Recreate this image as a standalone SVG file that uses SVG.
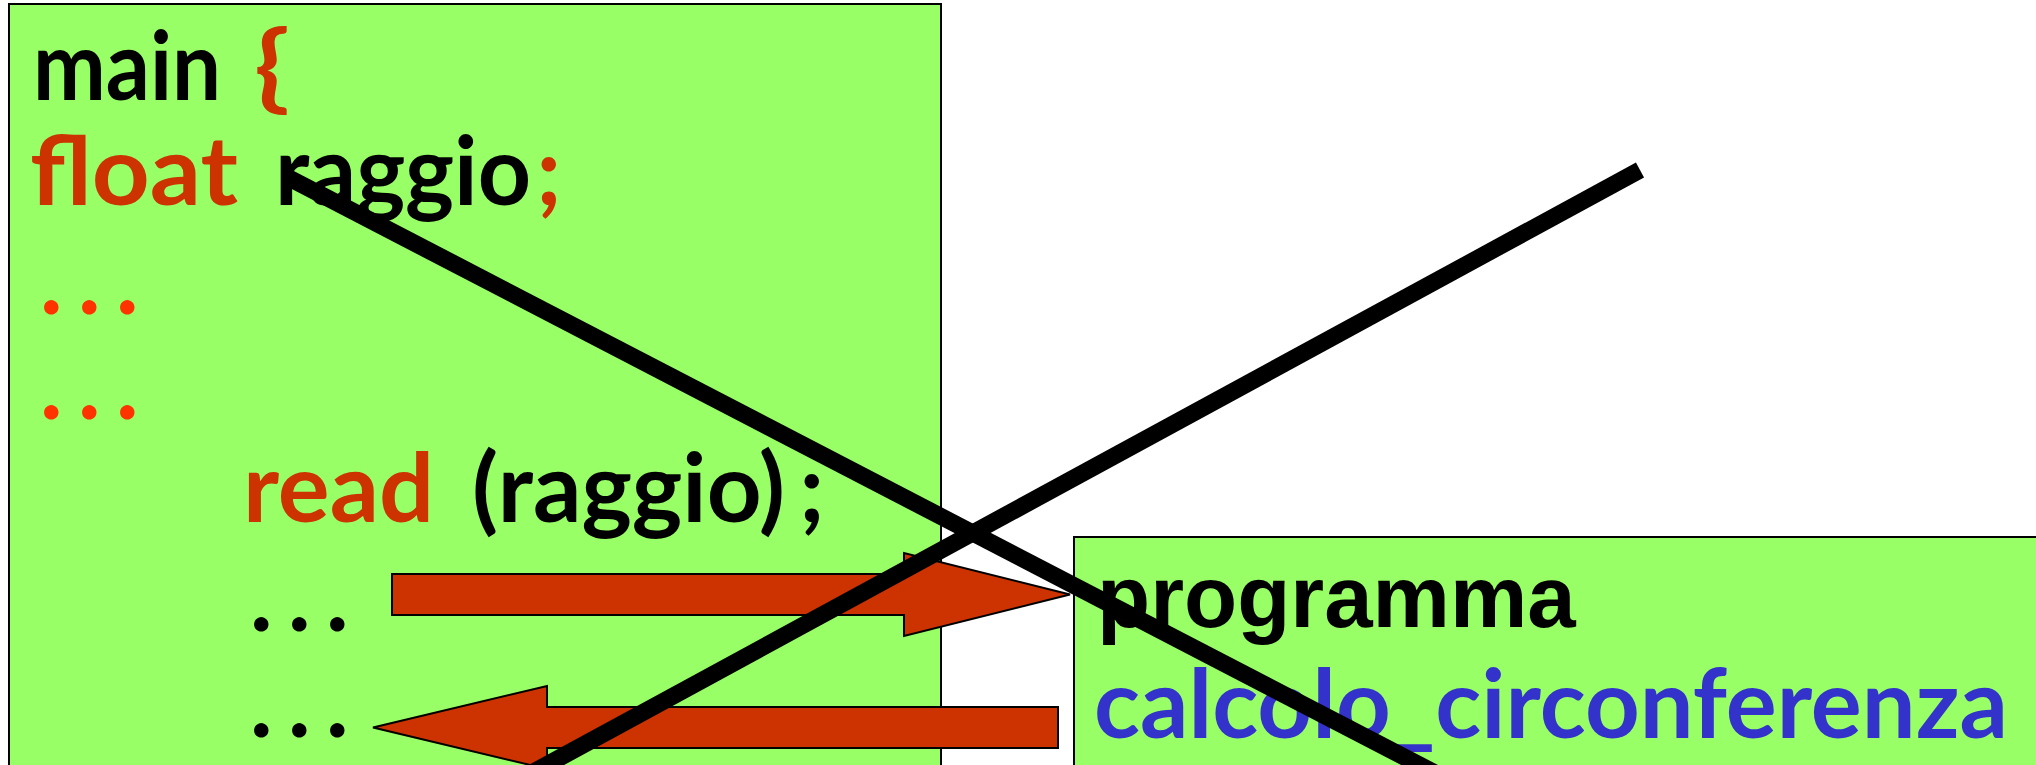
<svg xmlns="http://www.w3.org/2000/svg" width="2036" height="765" viewBox="0 0 2036 765">
<style>
.box{fill:#99FF66;stroke:#000;stroke-width:2}
.c{font-family:"Lato","DejaVu Sans",sans-serif;font-weight:bold;font-size:95px}
.k{fill:#000}
.o{fill:#CC3300}
.r{fill:#FF3300}
.b{fill:#3333CC}
.a{font-family:"Liberation Sans",Arial,sans-serif;font-weight:bold;font-size:87px;fill:#000}
.arrow{fill:#CC3300;stroke:#000;stroke-width:2;stroke-linejoin:miter}
.strike{stroke:#000;stroke-width:17;stroke-linecap:butt;fill:none}
</style>
<rect width="2036" height="765" fill="#fff"/>
<g id="main-block">
<rect class="box" x="9" y="4" width="932" height="800"/>
<text class="c k" x="33" y="100" textLength="188" lengthAdjust="spacingAndGlyphs">main</text>
<text class="c o" x="254" y="100" textLength="36" lengthAdjust="spacingAndGlyphs">{</text>
<text class="c o" x="30" y="205" textLength="208" lengthAdjust="spacingAndGlyphs">float</text>
<text class="c k" x="275" y="205" textLength="256" lengthAdjust="spacingAndGlyphs">raggio</text>
<text class="c o" x="536" y="205">;</text>
<text class="c r" x="40 78 116" y="314">...</text>
<text class="c r" x="40 78 116" y="419">...</text>
<text class="c o" x="243" y="522" textLength="191" lengthAdjust="spacingAndGlyphs">read</text>
<text class="c k" x="472" y="522" textLength="313" lengthAdjust="spacingAndGlyphs">(raggio)</text>
<text class="c k" x="799" y="522">;</text>
<text class="c k" x="250 288 326" y="631">...</text>
<text class="c k" x="250 288 326" y="737">...</text>
</g>
<g id="program-block">
<rect class="box" x="1074" y="537" width="1000" height="300"/>
<text class="a" x="1097" y="627">programma</text>
<text class="c b" x="1094" y="738" textLength="914" lengthAdjust="spacingAndGlyphs">calcolo_circonferenza</text>
</g>
<g id="connectors">
<polygon class="arrow" points="392,574 904,574 904,553 1070,594.5 904,636 904,615 392,615"/>
<polygon class="arrow" points="1058,707 547,707 547,686 373,727.5 547,769 547,748 1058,748"/>
</g>
<g id="cross">
<line class="strike" x1="1640" y1="170" x2="482" y2="800"/>
<line class="strike" x1="289" y1="178" x2="1487" y2="800"/>
</g>
</svg>
